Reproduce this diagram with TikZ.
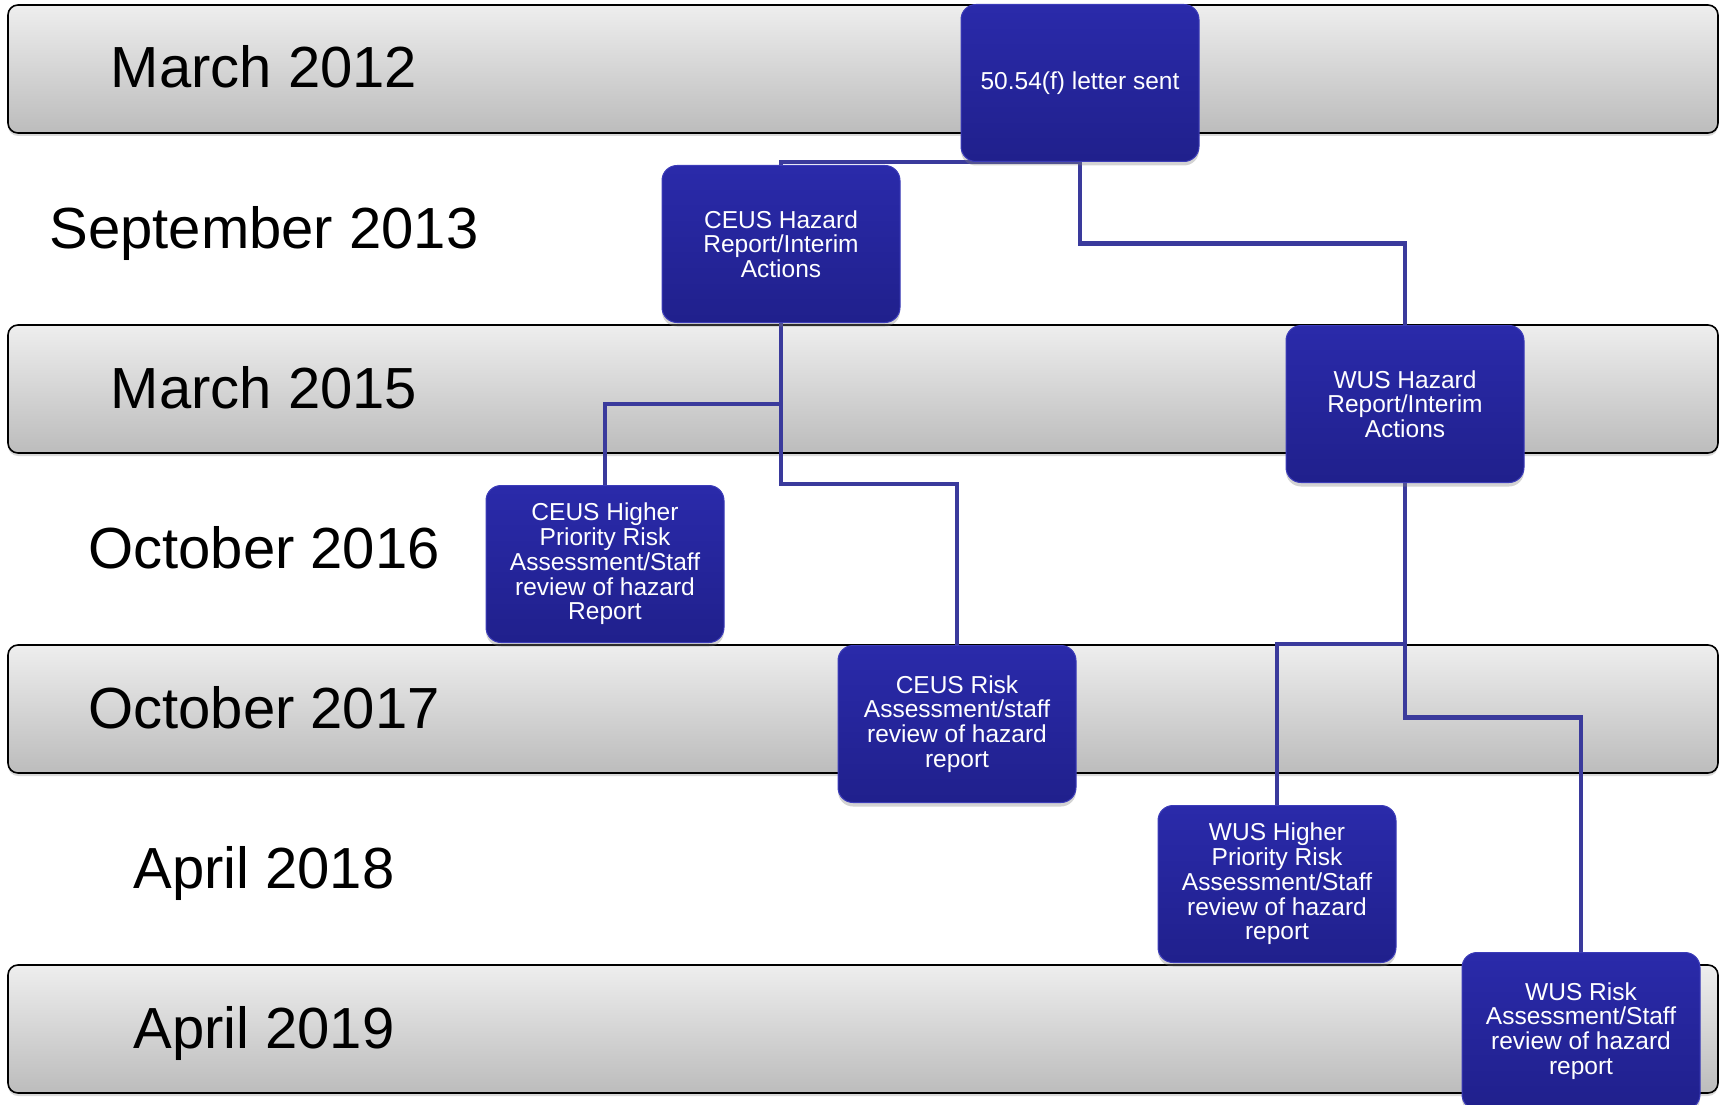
\documentclass[tikz,border=0pt]{standalone}
\usepackage{fontspec}
\setmainfont{Liberation Sans}
\usepackage{tikz}
\usetikzlibrary{calc}
\usetikzlibrary{shadows}
\definecolor{bandtop}{RGB}{238,238,238}
\definecolor{bandbot}{RGB}{188,188,188}
\definecolor{boxtop}{RGB}{42,42,170}
\definecolor{boxbot}{RGB}{32,32,140}
\definecolor{boxrim}{RGB}{60,60,185}
\definecolor{linkblue}{RGB}{58,58,156}
\pgfdeclarelayer{bands}
\pgfdeclarelayer{links}
\pgfsetlayers{bands,links,main}
\tikzstyle{band}=[rounded corners=10pt,line width=1.6pt,draw=black,top color=bandtop,bottom color=bandbot,drop shadow={opacity=0.3,shadow xshift=0pt,shadow yshift=-3pt}]
\tikzstyle{datelabel}=[anchor=base,inner sep=0pt,font=\fontsize{58}{60}\selectfont]
\tikzstyle{stepbox}=[rounded corners=15pt,minimum width=238pt,minimum height=157pt,inner sep=0pt,align=center,text=white,draw=boxrim,line width=1pt,top color=boxtop,bottom color=boxbot,font=\fontsize{24.5}{24.7}\selectfont,drop shadow={opacity=0.35,shadow xshift=0pt,shadow yshift=-4pt}]
\tikzstyle{link}=[line width=4.5pt,color=linkblue,line join=miter,line cap=rect]

\begin{document}
\begin{tikzpicture}[line cap=round,line join=round,x=1pt,y=-1pt]
            \useasboundingbox (0,0) rectangle (1725,1105);
            \clip (0,0) rectangle (1725,1105);
            \begin{pgfonlayer}{bands}
            \draw [band] (8,5) rectangle (1718,133);
            \draw [band] (8,325) rectangle (1718,453);
            \draw [band] (8,645) rectangle (1718,773);
            \draw [band] (8,965) rectangle (1718,1093);
            \end{pgfonlayer}

            \node [datelabel] (mar12) at (264,88) {March 2012};
            \node [datelabel] (sep13) at (264,248) {September 2013};
            \node [datelabel] (mar15) at (264,408) {March 2015};
            \node [datelabel] (oct16) at (264,568) {October 2016};
            \node [datelabel] (oct17) at (264,728) {October 2017};
            \node [datelabel] (apr18) at (264,888) {April 2018};
            \node [datelabel] (apr19) at (264,1048) {April 2019};

            \node [stepbox] (letter) at (1080,83) {50.54(f) letter sent};
            \node [stepbox] (ceushaz) at (781,244) {CEUS Hazard\\Report/Interim\\Actions};
            \node [stepbox] (wushaz) at (1405,404) {WUS Hazard\\Report/Interim\\Actions};
            \node [stepbox] (ceushigh) at (605,564) {CEUS Higher\\Priority Risk\\Assessment/Staff\\review of hazard\\Report};
            \node [stepbox] (ceusrisk) at (957,724) {CEUS Risk\\Assessment/staff\\review of hazard\\report};
            \node [stepbox] (wushigh) at (1277,884) {WUS Higher\\Priority Risk\\Assessment/Staff\\review of hazard\\report};
            \node [stepbox] (wusrisk) at (1581,1031) {WUS Risk\\Assessment/Staff\\review of hazard\\report};

            \begin{pgfonlayer}{links}
            \draw [link] (letter.south) -| (ceushaz.north);
            \draw [link] (letter.south) |- ($(letter.south)!0.5!(wushaz.north)$) -| (wushaz.north);
            \draw [link] (ceushaz.south) |- ($(ceushaz.south)!0.5!(ceushigh.north)$) -| (ceushigh.north);
            \draw [link] (ceushaz.south) |- ($(ceushaz.south)!0.5!(ceusrisk.north)$) -| (ceusrisk.north);
            \draw [link] (wushaz.south) |- ($(wushaz.south)!0.5!(wushigh.north)$) -| (wushigh.north);
            \draw [link] (wushaz.south) |- ($(wushaz.south)!0.5!(wusrisk.north)$) -| (wusrisk.north);
            \end{pgfonlayer}
\end{tikzpicture}
\end{document}
